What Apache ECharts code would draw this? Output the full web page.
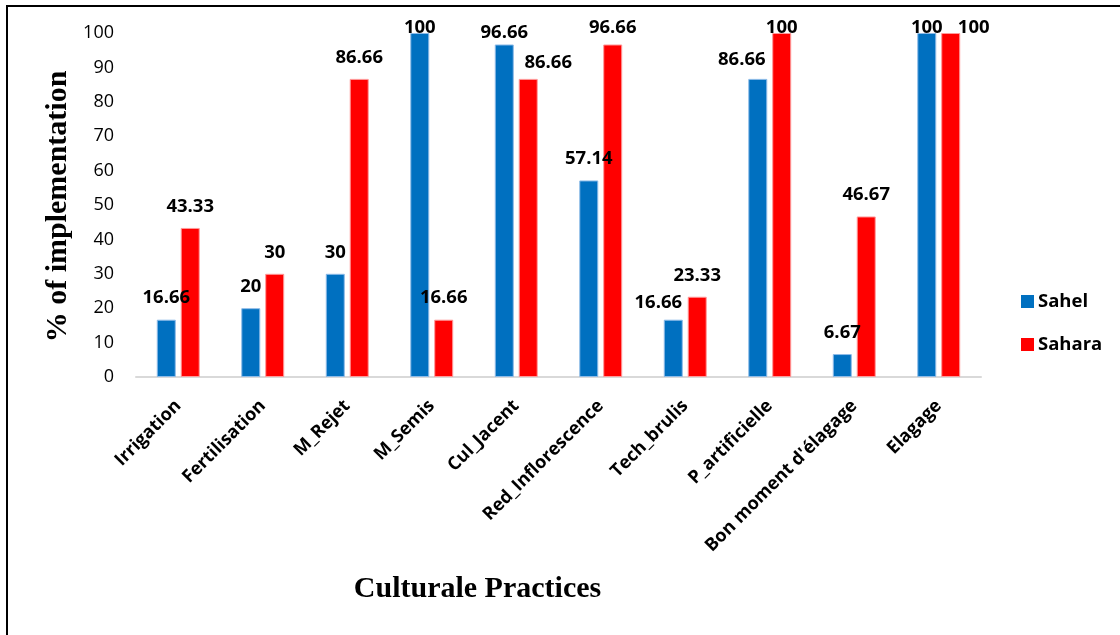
<!DOCTYPE html>
<html><head><meta charset="utf-8">
<script src="https://cdn.jsdelivr.net/npm/echarts@6/dist/echarts.min.js"></script>
<style>html,body{margin:0;padding:0;background:#fff}#c{width:1120px;height:635px}</style>
</head><body><div id="c"></div>
<script>
const categories = ["Irrigation", "Fertilisation", "M_Rejet", "M_Semis", "Cul_Jacent", "Red_Inflorescence", "Tech_brulis", "P_artificielle", "Bon moment d'élagage", "Elagage"];
const sahel = [16.66, 20, 30, 100, 96.66, 57.14, 16.66, 86.66, 6.67, 100];
const sahara = [43.33, 30, 86.66, 16.66, 86.66, 96.66, 23.33, 100, 46.67, 100];
const seriesNames = ["Sahel", "Sahara"];
const yAxisTitle = "% of implementation";
const xAxisTitle = "Culturale Practices";

// label placement nudges (styling, by series index)
const sahelNudge = {3: [0, 16], 4: [0, 10], 6: [-15, 5], 7: [-16, 2], 9: [0, 16]};
const saharaNudge = {4: [20, 5], 5: [0, 5], 7: [0, 16], 9: [23, 16]};

function build(values, nudge) {
  return values.map((v, i) => nudge[i] ? {value: v, label: {offset: nudge[i]}} : v);
}

const chart = echarts.init(document.getElementById('c'), null, {renderer: 'canvas'});
const labelStyle = {show: true, position: 'top', distance: 12, color: '#000', fontFamily: 'Open Sans', fontWeight: 'bold', fontSize: 18.5};
chart.setOption({
  animation: false,
  backgroundColor: '#fff',
  grid: {left: 136, right: 139, top: 33, bottom: 258, containLabel: false},
  legend: {
    orient: 'vertical', left: 1021, top: 292, padding: 0, itemWidth: 13, itemHeight: 13, itemGap: 24,
    icon: 'rect',
    itemStyle: {borderWidth: 0},
    textStyle: {fontFamily: 'Open Sans', fontWeight: 'bold', fontSize: 18.5, color: '#000', padding: [0, 0, 0, -1]},
    data: seriesNames
  },
  xAxis: {
    type: 'category', data: categories,
    axisLine: {show: true, lineStyle: {color: '#D9D9D9', width: 2}},
    axisTick: {show: false},
    axisLabel: {interval: 0, rotate: 45, margin: 26, color: '#000', fontFamily: 'Open Sans', fontWeight: 'bold', fontSize: 18}
  },
  yAxis: {
    type: 'value', min: 0, max: 100, interval: 10,
    axisLine: {show: false}, axisTick: {show: false}, splitLine: {show: false},
    axisLabel: {margin: 22, color: '#000', fontFamily: 'Open Sans', fontSize: 18}
  },
  series: [
    {name: seriesNames[0], type: 'bar', barWidth: 19, barGap: '26%', data: build(sahel, sahelNudge),
     itemStyle: {color: '#0070C0', borderColor: '#8DBBE8', borderWidth: 1}, label: labelStyle},
    {name: seriesNames[1], type: 'bar', barWidth: 19, barGap: '26%', data: build(sahara, saharaNudge),
     itemStyle: {color: '#FF0000', borderColor: '#FF9A9A', borderWidth: 1}, label: labelStyle}
  ],
  graphic: [
    {type: 'rect', shape: {x: 7, y: 6, width: 1400, height: 900}, style: {fill: 'none', stroke: '#000', lineWidth: 2}, silent: true},
    {type: 'text', x: 58, y: 206.5, rotation: Math.PI / 2,
     style: {text: yAxisTitle, font: 'bold 30px "Liberation Serif"', fill: '#000', textAlign: 'center', textVerticalAlign: 'middle'}},
    {type: 'text', x: 477.5, y: 589,
     style: {text: xAxisTitle, font: 'bold 30px "Liberation Serif"', fill: '#000', textAlign: 'center', textVerticalAlign: 'middle'}}
  ]
});
</script></body></html>
